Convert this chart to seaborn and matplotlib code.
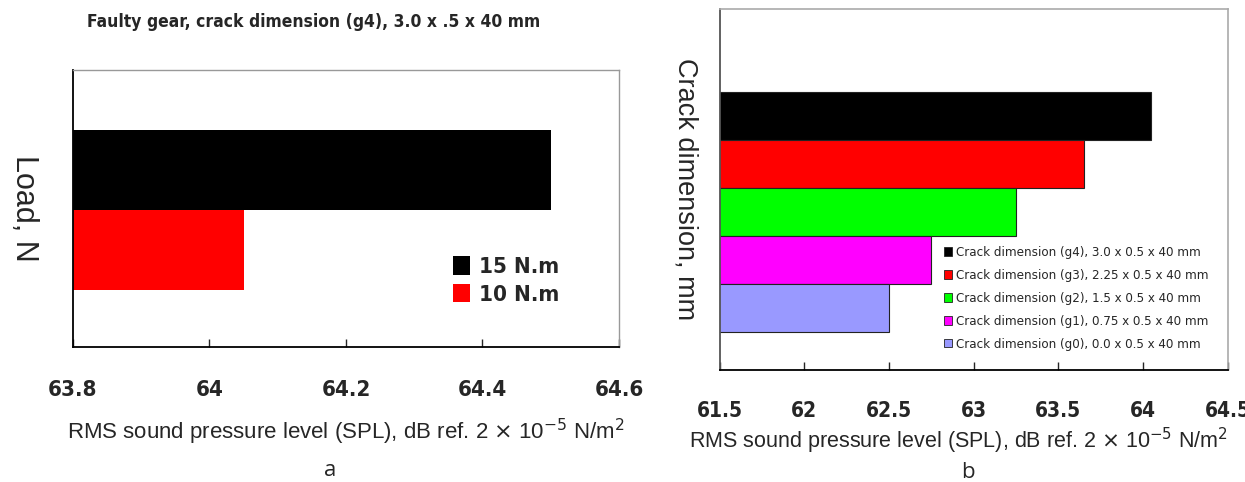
"""
Gear crack SPL comparison - two horizontal bar panels (a: load, b: crack dimension).
"""

import matplotlib.pyplot as plt
import pandas as pd
import seaborn as sns
from matplotlib.patches import Patch

sns.set_style("white")
plt.rcParams["font.family"] = ["Liberation Sans", "DejaVu Sans"]

NARROW = ["DejaVu Sans"]

# Panel a: load
load_labels = ["15 N.m", "10 N.m"]
load_spl = [64.5, 64.05]
load_colors = ["#000000", "#ff0000"]
load_ticks = [63.8, 64.0, 64.2, 64.4, 64.6]
load_tick_labels = ["63.8", "64", "64.2", "64.4", "64.6"]

# Panel b: crack dimension
crack_labels = [
    "Crack dimension (g4), 3.0 x 0.5 x 40 mm",
    "Crack dimension (g3), 2.25 x 0.5 x 40 mm",
    "Crack dimension (g2), 1.5 x 0.5 x 40 mm",
    "Crack dimension (g1), 0.75 x 0.5 x 40 mm",
    "Crack dimension (g0), 0.0 x 0.5 x 40 mm",
]
crack_spl = [64.05, 63.65, 63.25, 62.75, 62.5]
crack_colors = ["#000000", "#ff0000", "#00ff00", "#ff00ff", "#9999ff"]
crack_ticks = [61.5, 62.0, 62.5, 63.0, 63.5, 64.0, 64.5]
crack_tick_labels = ["61.5", "62", "62.5", "63", "63.5", "64", "64.5"]

xlabel = r"RMS sound pressure level (SPL), dB ref. 2 $\times$ 10$^{-5}$ N/m$^{2}$"

fig = plt.figure(figsize=(12.45, 4.82), dpi=100)
ax1 = fig.add_axes([0.0586, 0.280, 0.4386, 0.5747])
ax2 = fig.add_axes([0.578, 0.2324, 0.408, 0.749])

# --- panel a ---
df_a = pd.DataFrame({"load": load_labels, "spl": load_spl})
sns.barplot(data=df_a, x="spl", y="load", hue="load", palette=load_colors,
            saturation=1, width=1.0, orient="h", legend=False, ax=ax1, linewidth=0)
ax1.set_xlim(63.8, 64.6)
ax1.set_ylim(2.21, -1.25)
ax1.set_xticks(load_ticks)
ax1.set_xticklabels(load_tick_labels, family=NARROW, stretch="condensed",
                    fontweight="bold", fontsize=16)
ax1.set_yticks([])
ax1.tick_params(axis="x", direction="in", length=6, width=1, pad=24, bottom=True)
ax1.set_xlabel(xlabel, fontsize=16, labelpad=12)
ax1.set_ylabel("Load, N", fontsize=22, rotation=270, labelpad=46, va="bottom")
fig.text(314 / 1245, 1 - 22 / 482, "Faulty gear, crack dimension (g4), 3.0 x .5 x 40 mm",
         ha="center", va="center", family=NARROW, stretch="condensed",
         fontweight="bold", fontsize=12.5)
for side in ["left", "bottom"]:
    ax1.spines[side].set_color("black")
    ax1.spines[side].set_linewidth(1.3)
for side in ["top", "right"]:
    ax1.spines[side].set_color("#999999")
    ax1.spines[side].set_linewidth(1.0)
handles = [Patch(facecolor=c, edgecolor="none") for c in load_colors]
ax1.legend(handles, load_labels, loc="lower left", bbox_to_anchor=(0.66, 0.08),
           frameon=False, handlelength=0.75, handleheight=0.9, handletextpad=0.4,
           labelspacing=0.3,
           prop={"family": NARROW, "stretch": "condensed", "weight": "bold", "size": 16})

# --- panel b ---
df_b = pd.DataFrame({"crack": crack_labels, "spl": crack_spl})
sns.barplot(data=df_b, x="spl", y="crack", hue="crack", palette=crack_colors,
            saturation=1, width=1.0, orient="h", legend=False, ax=ax2,
            edgecolor="#222222", linewidth=0.8)
ax2.set_xlim(61.5, 64.5)
ax2.set_ylim(5.29, -2.24)
ax2.set_xticks(crack_ticks)
ax2.set_xticklabels(crack_tick_labels, family=NARROW, stretch="condensed",
                    fontweight="bold", fontsize=15)
ax2.set_yticks([])
ax2.tick_params(axis="x", direction="in", length=6, width=1, pad=22, bottom=True)
ax2.set_xlabel(xlabel, fontsize=15.5, labelpad=8)
ax2.xaxis.set_label_coords(0.47, -0.155)
ax2.set_ylabel("Crack dimension, mm", fontsize=19.5, rotation=270, labelpad=34, va="bottom")
ax2.spines["bottom"].set_color("black")
ax2.spines["bottom"].set_linewidth(1.3)
ax2.spines["left"].set_color("#555555")
ax2.spines["left"].set_linewidth(1.3)
for side in ["top", "right"]:
    ax2.spines[side].set_color("#aaaaaa")
    ax2.spines[side].set_linewidth(1.2)
handles = [Patch(facecolor=c, edgecolor="#222222", linewidth=0.6) for c in crack_colors]
ax2.legend(handles, crack_labels, loc="lower right", bbox_to_anchor=(0.985, 0.02),
           frameon=False, handlelength=0.6, handleheight=0.6, handletextpad=0.3,
           labelspacing=0.75, prop={"family": NARROW, "stretch": "condensed", "size": 9.5})

fig.text(330 / 1245, 1 - 470 / 482, "a", ha="center", va="center", fontsize=16,
         family=["Open Sans", "DejaVu Sans"])
fig.text(968 / 1245, 1 - 472 / 482, "b", ha="center", va="center", fontsize=16,
         family=["Open Sans", "DejaVu Sans"])

fig.savefig("out.png", dpi=100)
plt.close(fig)
